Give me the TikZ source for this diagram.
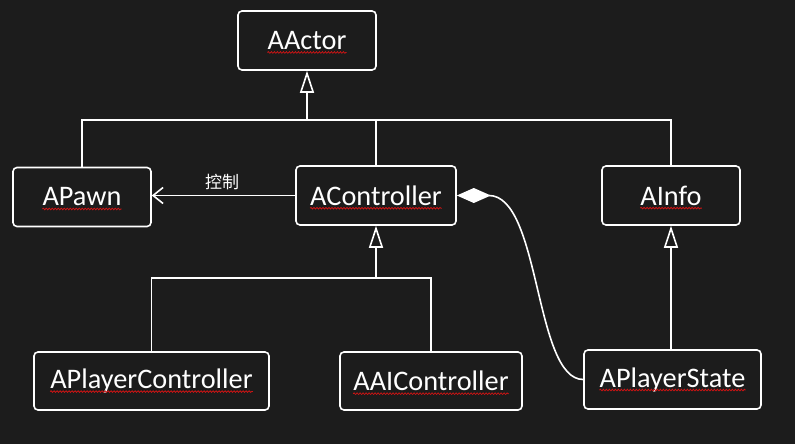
\documentclass[tikz,border=0pt]{standalone}
\usepackage{fontspec}
\setmainfont{Carlito}
\newfontfamily\cjk{Noto Sans CJK SC}
\usetikzlibrary{arrows.meta,decorations.pathmorphing,calc}
\definecolor{bg}{RGB}{28,28,28}
\definecolor{squigred}{RGB}{205,20,20}
\begin{document}
\begin{tikzpicture}[x=1pt,y=-1pt,
  box/.style={draw=white,line width=1.6pt,rounded corners=4pt,minimum width=#1,minimum height=59pt,inner sep=0pt},
  lbl/.style={text=white,font=\fontsize{28.3}{32}\selectfont,inner sep=0pt},
  conn/.style={draw=white,line width=1.6pt},
  inh/.style={-{Triangle[open,length=22pt,width=14pt,line width=1.6pt]}},
  squig/.style={draw=squigred,line width=0.8pt,decorate,decoration={snake,amplitude=0.8pt,segment length=3pt}}]
\fill[bg] (0,0) rectangle (795,444);
\useasboundingbox (0,0) rectangle (795,444);
% boxes
\node[box=138pt] (actor) at (307,40.5) {};
\node[box=138pt] (pawn) at (82,197) {};
\node[box=160pt] (ctrl) at (376,195.5) {};
\node[box=138pt] (info) at (671,195.5) {};
\node[box=235pt,minimum height=58pt] (pc) at (151.5,381) {};
\node[box=182pt,minimum height=58pt] (ai) at (431,381) {};
\node[box=177pt] (ps) at (672.5,379.5) {};
% texts
\node[lbl] (tactor) at (actor.center) {AActor};
\node[lbl] (tpawn) at (pawn.center) {APawn};
\node[lbl] (tctrl) at (ctrl.center) {AController};
\node[lbl] (tinfo) at (info.center) {AInfo};
\node[lbl] (tpc) at (pc.center) {APlayerController};
\node[lbl] (tai) at (ai.center) {AAIController};
\node[lbl] (tps) at (ps.center) {APlayerState};
\foreach \t in {tactor,tpawn,tctrl,tinfo,tpc,tai,tps}
  \draw[squig] ([yshift=-3pt]\t.base west) -- ([yshift=-3pt]\t.base east);
% inheritance from AActor
\coordinate (b1m) at (307,120);
\draw[conn] (pawn.north) -- (pawn.north |- b1m) -- (info.north |- b1m) -- (info.north);
\draw[conn] (ctrl.north) -- (ctrl.north |- b1m);
\draw[conn,inh] (b1m) -- (actor.south);
% inheritance from AController
\coordinate (b2m) at (376,278);
\draw[conn] (pc.north) -- (pc.north |- b2m) -- (ai.north |- b2m) -- (ai.north);
\draw[conn,inh] (b2m) -- (ctrl.south);
% inheritance from AInfo
\draw[conn,inh] (info.south |- ps.north) -- (info.south);
% control
\draw[conn,-{Straight Barb[length=10pt,width=16pt,line width=1.6pt]}] (ctrl.west) -- (ctrl.west -| pawn.east);
\node[text=white,font=\cjk\fontsize{17}{20}\selectfont,inner sep=0pt] (ctl) at (222,182) {控制};
% composition
\draw[conn,{Diamond[length=34pt,width=15pt]}-] (ctrl.east) .. controls +(84,0) and +(-49,0) .. (ps.west);
\end{tikzpicture}
\end{document}
